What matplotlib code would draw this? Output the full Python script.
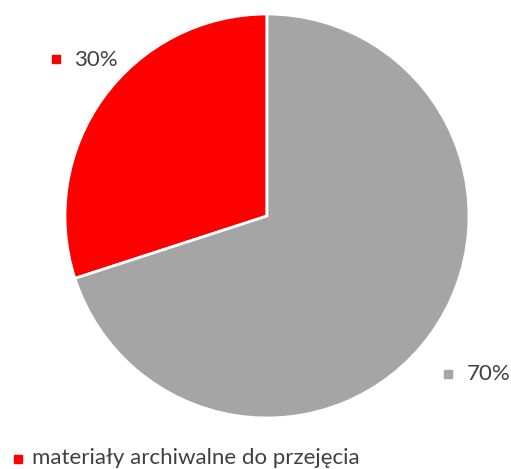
import matplotlib.pyplot as plt

labels = ['materiały archiwalne do przejęcia', 'pozostałe']
values = [30, 70]
colors = ['#FF0000', '#A5A5A5']

plt.rcParams['font.family'] = ['Lato', 'DejaVu Sans']

fig = plt.figure(figsize=(5.11, 4.69), dpi=100)
ax = fig.add_axes([0, 0, 1, 1])
ax.set_xlim(0, 511)
ax.set_ylim(469, 0)
ax.axis('off')

# pie in a sub-axes placed over the drawing area
cx, cy, r = 267, 216, 202
pax = fig.add_axes([(cx - r) / 511, 1 - (cy + r) / 469, 2 * r / 511, 2 * r / 469])
pax.pie(values, colors=colors, startangle=90, counterclock=True,
        wedgeprops=dict(edgecolor='white', linewidth=2))
pax.set_xlim(-1, 1)
pax.set_ylim(-1, 1)
pax.axis('off')

# data labels with small colour keys
for (x, y), v, c in zip([(55.5, 59.5), (447.5, 374)], values, colors):
    ax.plot(x, y, marker='s', markersize=6, color=c, linestyle='none')
    ax.text(x + 19, y, f'{v}%', fontsize=16, color='#404040', va='center', ha='left')

# legend (sits right at the bottom edge)
ax.plot(18, 459, marker='s', markersize=6, color=colors[0], linestyle='none')
ax.text(32, 464, labels[0], fontsize=16, color='#404040', va='baseline', ha='left')

fig.savefig('out.png', dpi=100)
